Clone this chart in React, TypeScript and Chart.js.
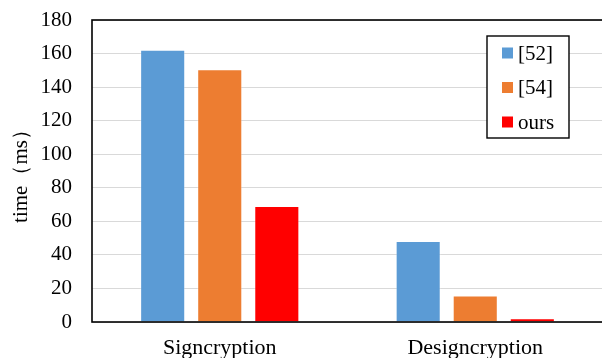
import React, { useEffect, useRef } from "react";
import { Chart, registerables } from "chart.js";

Chart.register(...registerables);

const categories = ["Signcryption", "Designcryption"];
const series52 = [162.3, 48.3];
const series54 = [150.6, 15.8];
const seriesOurs = [69.1, 2.2];
const seriesLabels = ["[52]", "[54]", "ours"];
const seriesColors = ["#5B9BD5", "#ED7D31", "#FF0000"];
const yTicks = [0, 20, 40, 60, 80, 100, 120, 140, 160, 180];

const SERIF = "'Liberation Serif', 'Times New Roman', serif";

// Frame around the plot area and a boxed legend drawn inside it.
const framePlugin = {
  id: "frameAndLegend",
  afterDraw(chart: any) {
    const { ctx, chartArea } = chart;
    const { left, top, right, bottom } = chartArea;
    ctx.save();
    ctx.strokeStyle = "#000";
    ctx.lineWidth = 1.6;
    ctx.strokeRect(left, top, right - left, bottom - top);

    // legend box
    const bx = left + 395;
    const by = top + 16;
    const bw = 82;
    const bh = 102;
    ctx.fillStyle = "#fff";
    ctx.fillRect(bx, by, bw, bh);
    ctx.lineWidth = 1.4;
    ctx.strokeRect(bx, by, bw, bh);

    ctx.font = `21px ${SERIF}`;
    ctx.textBaseline = "middle";
    ctx.textAlign = "left";
    chart.data.datasets.forEach((ds: any, i: number) => {
      const cy = by + 17 + i * 34.5;
      ctx.fillStyle = ds.backgroundColor;
      ctx.fillRect(bx + 15, cy - 5.5, 11, 11);
      ctx.fillStyle = "#000";
      ctx.fillText(ds.label, bx + 31, cy + 1);
    });
    ctx.restore();
  },
};

export default function App() {
  const canvasRef = useRef<HTMLCanvasElement | null>(null);

  useEffect(() => {
    if (!canvasRef.current) return;
    const values = [series52, series54, seriesOurs];
    const chart = new Chart(canvasRef.current, {
      type: "bar",
      data: {
        labels: categories,
        datasets: values.map((v, i) => ({
          label: seriesLabels[i],
          data: v,
          backgroundColor: seriesColors[i],
          borderColor: "rgba(255,255,255,0.3)",
          borderWidth: 1,
          categoryPercentage: 0.67,
          barPercentage: 0.79,
        })),
      },
      options: {
        responsive: false,
        animation: false,
        devicePixelRatio: 1,
        layout: { padding: { top: 20, right: 1, left: 0, bottom: 0 } },
        plugins: {
          legend: { display: false },
          tooltip: { enabled: false },
        },
        scales: {
          x: {
            grid: { display: false, drawTicks: false },
            border: { display: false },
            ticks: {
              color: "#000",
              padding: 13,
              font: { family: SERIF, size: 22 },
            },
            afterFit(scale: any) {
              scale.height = 36;
              scale.paddingLeft = 0;
              scale.paddingRight = 0;
            },
          },
          y: {
            min: 0,
            max: 180,
            afterBuildTicks(scale: any) {
              scale.ticks = yTicks.map((v) => ({ value: v }));
            },
            grid: { color: "#d9d9d9", lineWidth: 1, drawTicks: false },
            border: { display: false },
            ticks: {
              color: "#000",
              padding: 20,
              font: { family: SERIF, size: 21 },
            },
            title: {
              display: true,
              text: "time（ms）",
              color: "#000",
              padding: { top: 9, bottom: 0 },
              font: { family: SERIF, size: 21 },
            },
            afterFit(scale: any) {
              scale.width = 92;
              scale.paddingTop = 0;
              scale.paddingBottom = 0;
            },
          },
        },
      },
      plugins: [framePlugin],
    });
    return () => chart.destroy();
  }, []);

  return (
    <div
      style={{
        position: "fixed",
        left: 0,
        top: 0,
        width: 602,
        height: 358,
        overflow: "hidden",
        background: "#fff",
      }}
    >
      <canvas ref={canvasRef} width={604} height={358} style={{ display: "block" }} />
    </div>
  );
}
